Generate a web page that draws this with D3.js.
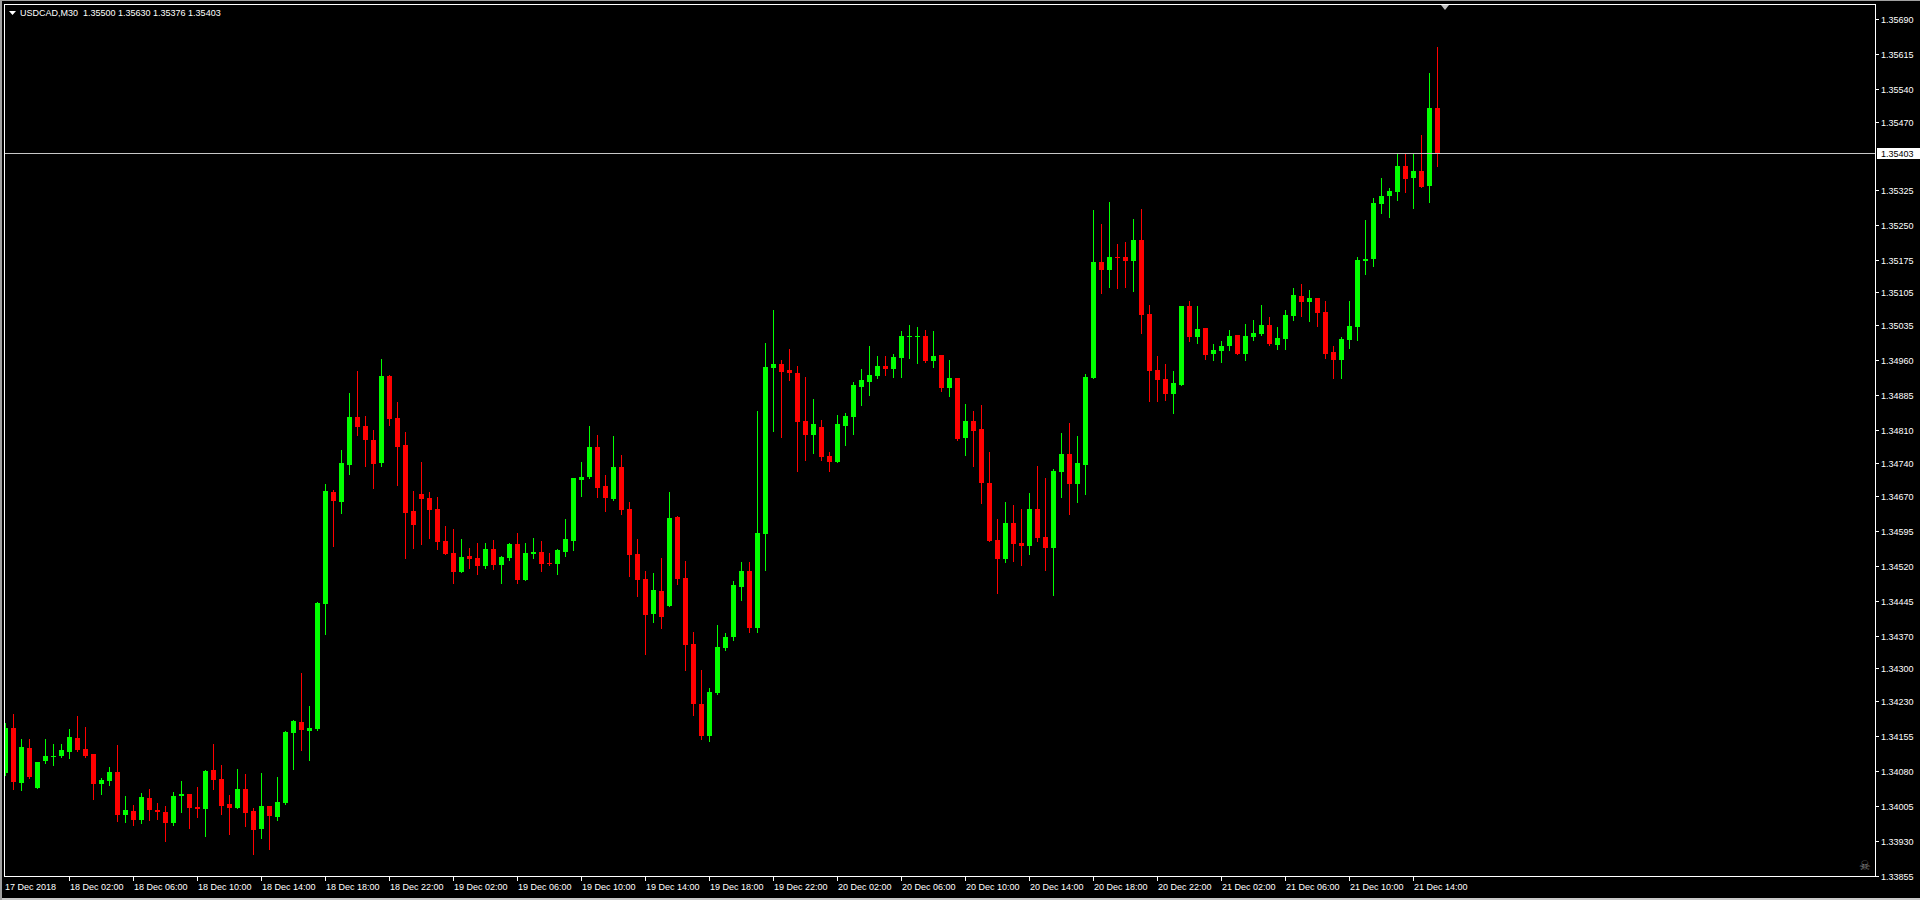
<!DOCTYPE html>
<html><head><meta charset="utf-8">
<script src="https://cdn.jsdelivr.net/npm/d3@7"></script>
<style>
html,body{margin:0;padding:0;background:#000;overflow:hidden;}
svg{display:block;}
text{font-family:"Liberation Sans",Arial,sans-serif;font-size:9px;fill:#fff;white-space:pre;}
</style></head><body>
<svg id="c" width="1920" height="900"></svg>
<script>
const symbol = "USDCAD,M30";
const startTime = "2018-12-17T22:00";
const barMinutes = 30;

const open = [1.34076,1.34172,1.34055,1.34129,1.34044,1.34101,1.34110,1.34113,1.34121,1.34151,
1.34127,1.34116,1.34053,1.34059,1.34078,1.33986,1.33994,1.33975,1.34022,1.33996,
1.33992,1.33969,1.34026,1.34031,1.34003,1.33998,1.34082,1.34063,1.34009,1.34001,
1.34041,1.33994,1.33956,1.34005,1.33981,1.34011,1.34161,1.34185,1.34166,1.34170,
1.34438,1.34678,1.34656,1.34735,1.34838,1.34819,1.34789,1.34740,1.34926,1.34836,
1.34778,1.34637,1.34673,1.34665,1.34641,1.34573,1.34547,1.34506,1.34540,1.34536,
1.34519,1.34555,1.34521,1.34536,1.34566,1.34489,1.34545,1.34549,1.34526,1.34523,
1.34549,1.34573,1.34703,1.34710,1.34774,1.34690,1.34662,1.34731,1.34641,1.34545,
1.34491,1.34416,1.34466,1.34433,1.34624,1.34493,1.34352,1.34223,1.34155,1.34247,
1.34343,1.34367,1.34474,1.34508,1.34386,1.34588,1.34943,1.34952,1.34939,1.34932,
1.34830,1.34800,1.34817,1.34755,1.34742,1.34819,1.34838,1.34903,1.34913,1.34926,
1.34947,1.34941,1.34965,1.35010,1.35010,1.35012,1.34958,1.34971,1.34900,1.34922,
1.34793,1.34830,1.34812,1.34697,1.34575,1.34534,1.34611,1.34568,1.34562,1.34641,
1.34581,1.34558,1.34720,1.34759,1.34695,1.34735,1.34922,1.35170,1.35153,1.35181,
1.35181,1.35172,1.35217,1.35059,1.34939,1.34920,1.34887,1.34907,1.35076,1.35010,
1.35029,1.34973,1.34980,1.34990,1.35014,1.34973,1.35010,1.35016,1.35035,1.34992,
1.35005,1.35055,1.35097,1.35085,1.35093,1.35063,1.34977,1.34960,1.35003,1.35031,
1.35172,1.35177,1.35294,1.35312,1.35320,1.35376,1.35350,1.35365,1.35333,1.35500];

const high = [1.34183,1.34202,1.34148,1.34148,1.34099,1.34148,1.34138,1.34138,1.34170,1.34198,
1.34174,1.34116,1.34065,1.34089,1.34136,1.34026,1.34007,1.34033,1.34041,1.34011,
1.34005,1.34035,1.34058,1.34031,1.34046,1.34082,1.34138,1.34093,1.34028,1.34084,
1.34074,1.34001,1.34076,1.34005,1.34067,1.34166,1.34189,1.34290,1.34219,1.34442,
1.34695,1.34682,1.34768,1.34890,1.34937,1.34840,1.34810,1.34962,1.34928,1.34870,
1.34806,1.34680,1.34742,1.34678,1.34667,1.34605,1.34598,1.34577,1.34558,1.34568,
1.34568,1.34575,1.34540,1.34568,1.34590,1.34568,1.34579,1.34573,1.34547,1.34555,
1.34620,1.34708,1.34742,1.34819,1.34800,1.34714,1.34798,1.34757,1.34656,1.34577,
1.34508,1.34504,1.34536,1.34678,1.34626,1.34530,1.34378,1.34296,1.34258,1.34393,
1.34375,1.34487,1.34528,1.34528,1.34851,1.34997,1.35067,1.34960,1.34984,1.34947,
1.34924,1.34877,1.34832,1.34763,1.34843,1.34847,1.34913,1.34941,1.34990,1.34969,
1.34969,1.34973,1.35022,1.35035,1.35031,1.35025,1.35022,1.34971,1.34960,1.34922,
1.34866,1.34851,1.34864,1.34763,1.34620,1.34656,1.34650,1.34641,1.34675,1.34733,
1.34708,1.34727,1.34804,1.34825,1.34798,1.34930,1.35282,1.35252,1.35299,1.35209,
1.35213,1.35262,1.35284,1.35078,1.34969,1.34952,1.34937,1.35076,1.35087,1.35076,
1.35029,1.34995,1.35001,1.35025,1.35014,1.35037,1.35046,1.35078,1.35052,1.35031,
1.35067,1.35115,1.35123,1.35110,1.35093,1.35087,1.34990,1.35010,1.35087,1.35181,
1.35260,1.35307,1.35350,1.35329,1.35402,1.35402,1.35402,1.35442,1.35575,1.35630];

const low = [1.34071,1.34041,1.34039,1.34065,1.34044,1.34097,1.34093,1.34110,1.34108,1.34123,
1.34110,1.34019,1.34031,1.34050,1.33973,1.33971,1.33964,1.33969,1.33975,1.33977,
1.33930,1.33964,1.33992,1.33958,1.33981,1.33941,1.34041,1.33988,1.33945,1.34001,
1.33962,1.33902,1.33936,1.33913,1.33975,1.34009,1.34084,1.34125,1.34104,1.34168,
1.34373,1.34562,1.34633,1.34716,1.34800,1.34733,1.34686,1.34733,1.34821,1.34692,
1.34536,1.34558,1.34566,1.34579,1.34555,1.34545,1.34483,1.34506,1.34515,1.34502,
1.34515,1.34513,1.34483,1.34532,1.34483,1.34489,1.34536,1.34508,1.34521,1.34502,
1.34540,1.34553,1.34669,1.34708,1.34667,1.34637,1.34660,1.34630,1.34498,1.34455,
1.34331,1.34399,1.34386,1.34433,1.34481,1.34296,1.34200,1.34148,1.34144,1.34245,
1.34339,1.34361,1.34446,1.34378,1.34378,1.34511,1.34808,1.34795,1.34917,1.34722,
1.34746,1.34761,1.34746,1.34722,1.34742,1.34778,1.34802,1.34864,1.34885,1.34922,
1.34928,1.34924,1.34924,1.34965,1.34954,1.34956,1.34945,1.34894,1.34883,1.34789,
1.34757,1.34733,1.34654,1.34573,1.34461,1.34528,1.34530,1.34521,1.34545,1.34573,
1.34510,1.34457,1.34667,1.34630,1.34656,1.34673,1.34922,1.35104,1.35117,1.35115,
1.35117,1.35108,1.35018,1.34872,1.34872,1.34875,1.34847,1.34907,1.35001,1.34997,
1.34962,1.34960,1.34956,1.34982,1.34973,1.34960,1.35003,1.35014,1.34992,1.34984,
1.34984,1.35046,1.35055,1.35044,1.35033,1.34965,1.34922,1.34922,1.34986,1.35003,
1.35145,1.35162,1.35275,1.35267,1.35303,1.35320,1.35286,1.35331,1.35299,1.35376];

const close = [1.34172,1.34057,1.34131,1.34067,1.34099,1.34112,1.34112,1.34125,1.34153,1.34125,
1.34113,1.34053,1.34061,1.34078,1.33986,1.33996,1.33975,1.34024,1.33996,1.33993,
1.33969,1.34026,1.34031,1.34001,1.33998,1.34080,1.34061,1.34005,1.34001,1.34041,
1.33990,1.33954,1.34005,1.33983,1.34013,1.34164,1.34187,1.34168,1.34172,1.34440,
1.34680,1.34658,1.34740,1.34838,1.34817,1.34789,1.34738,1.34926,1.34834,1.34774,
1.34633,1.34607,1.34663,1.34639,1.34570,1.34545,1.34506,1.34538,1.34534,1.34519,
1.34555,1.34521,1.34538,1.34566,1.34489,1.34547,1.34549,1.34523,1.34523,1.34553,
1.34577,1.34708,1.34710,1.34774,1.34686,1.34665,1.34731,1.34639,1.34543,1.34489,
1.34414,1.34468,1.34410,1.34622,1.34491,1.34350,1.34223,1.34155,1.34249,1.34346,
1.34367,1.34478,1.34508,1.34386,1.34590,1.34945,1.34952,1.34935,1.34932,1.34827,
1.34800,1.34823,1.34753,1.34742,1.34823,1.34840,1.34907,1.34917,1.34928,1.34947,
1.34941,1.34967,1.35012,1.35012,1.35012,1.34958,1.34969,1.34900,1.34922,1.34791,
1.34830,1.34808,1.34697,1.34573,1.34534,1.34611,1.34566,1.34562,1.34641,1.34579,
1.34558,1.34723,1.34759,1.34695,1.34740,1.34924,1.35170,1.35153,1.35181,1.35179,
1.35172,1.35217,1.35057,1.34937,1.34917,1.34887,1.34911,1.35076,1.35010,1.35027,
1.34971,1.34982,1.34990,1.35012,1.34973,1.35012,1.35018,1.35035,1.34995,1.35007,
1.35057,1.35100,1.35085,1.35093,1.35061,1.34973,1.34960,1.35005,1.35033,1.35174,
1.35177,1.35297,1.35312,1.35322,1.35376,1.35348,1.35365,1.35331,1.35500,1.35403];

const priceTicks = ["1.35690","1.35615","1.35540","1.35470","1.35325","1.35250","1.35175","1.35105",
"1.35035","1.34960","1.34885","1.34810","1.34740","1.34670","1.34595","1.34520","1.34445","1.34370",
"1.34300","1.34230","1.34155","1.34080","1.34005","1.33930","1.33855"];

const timeTicks = ["17 Dec 2018","18 Dec 02:00","18 Dec 06:00","18 Dec 10:00","18 Dec 14:00","18 Dec 18:00",
"18 Dec 22:00","19 Dec 02:00","19 Dec 06:00","19 Dec 10:00","19 Dec 14:00","19 Dec 18:00","19 Dec 22:00",
"20 Dec 02:00","20 Dec 06:00","20 Dec 10:00","20 Dec 14:00","20 Dec 18:00","20 Dec 22:00","21 Dec 02:00",
"21 Dec 06:00","21 Dec 10:00","21 Dec 14:00"];

const lastPrice = 1.35403;

// ---------- drawing ----------
const W = 1920, H = 900;
const plot = {left: 4, top: 4, right: 1875, bottom: 876};
const N = open.length;
const svg = d3.select("#c");

const parse = d3.timeParse("%Y-%m-%dT%H:%M");
const t0 = parse(startTime);
const times = d3.range(N).map(i => d3.timeMinute.offset(t0, i * barMinutes));
const fmtFirst = d3.timeFormat("%d %b %Y");
const fmtBar = d3.timeFormat("%d %b %H:%M");

const x = d3.scaleLinear().domain([0, N - 1]).range([5.3, 5.3 + 8 * (N - 1)]);
const y = d3.scaleLinear().domain([1.33855, 1.35690]).range([876, 19.3]);

// window frame
svg.append("rect").attr("x",0).attr("y",0).attr("width",W).attr("height",H).attr("fill","#000");
svg.append("rect").attr("x",0).attr("y",0).attr("width",W).attr("height",1).attr("fill","#a0a0a0");
svg.append("rect").attr("x",0).attr("y",898).attr("width",W).attr("height",2).attr("fill","#c8c8c8");
svg.append("rect").attr("x",0).attr("y",0).attr("width",2).attr("height",H).attr("fill","#a0a0a0");

svg.append("clipPath").attr("id","pc").append("rect")
  .attr("x", plot.left + 1).attr("y", plot.top + 1)
  .attr("width", plot.right - plot.left - 1).attr("height", plot.bottom - plot.top - 1);

const g = svg.append("g").attr("clip-path","url(#pc)").attr("shape-rendering","crispEdges");

const bars = d3.range(N).map(i => ({i, o: open[i], h: high[i], l: low[i], c: close[i]}));
const col = d => d.c >= d.o ? "#00ff00" : "#ff0000";

g.selectAll("line.wick").data(bars).join("line")
  .attr("class","wick")
  .attr("x1", d => Math.floor(x(d.i)) + 0.5).attr("x2", d => Math.floor(x(d.i)) + 0.5)
  .attr("y1", d => Math.round(y(d.h))).attr("y2", d => Math.round(y(d.l)) + 1)
  .attr("stroke", col).attr("stroke-width", 1);

g.selectAll("rect.body").data(bars).join("rect")
  .attr("class","body")
  .attr("x", d => Math.floor(x(d.i)) - 2)
  .attr("width", 5)
  .attr("y", d => Math.round(y(Math.max(d.o, d.c))))
  .attr("height", d => Math.max(1, Math.round(y(Math.min(d.o, d.c))) - Math.round(y(Math.max(d.o, d.c)))))
  .attr("fill", col);

// current price line
const yl = Math.round(y(lastPrice));
svg.append("line").attr("x1", plot.left).attr("x2", plot.right)
  .attr("y1", yl + 0.5).attr("y2", yl + 0.5).attr("stroke","#c8c8c8").attr("stroke-width",1);

// frame
const fr = svg.append("g").attr("stroke","#ffffff").attr("stroke-width",1).attr("shape-rendering","crispEdges");
fr.append("line").attr("x1",plot.left+0.5).attr("x2",plot.left+0.5).attr("y1",plot.top).attr("y2",plot.bottom+1);
fr.append("line").attr("x1",plot.left).attr("x2",plot.right+1).attr("y1",plot.top+0.5).attr("y2",plot.top+0.5);
fr.append("line").attr("x1",plot.right+0.5).attr("x2",plot.right+0.5).attr("y1",plot.top).attr("y2",plot.bottom+1);
fr.append("line").attr("x1",plot.left).attr("x2",plot.right+1).attr("y1",plot.bottom+0.5).attr("y2",plot.bottom+0.5);

// price axis
const pa = svg.append("g");
priceTicks.forEach(s => {
  const v = +s, yy = Math.round(y(v));
  pa.append("line").attr("x1", plot.right).attr("x2", plot.right + 4)
    .attr("y1", yy + 0.5).attr("y2", yy + 0.5).attr("stroke","#fff").attr("shape-rendering","crispEdges");
  pa.append("text").attr("x", plot.right + 6).attr("y", yy + 4).text(s);
});
svg.append("rect").attr("x", plot.right + 2).attr("y", yl - 5).attr("width", W - plot.right - 2).attr("height", 11).attr("fill","#fff");
svg.append("text").attr("x", plot.right + 6).attr("y", yl + 4).style("fill","#000").text(d3.format(".5f")(lastPrice));

// time axis
const ta = svg.append("g");
timeTicks.forEach((s, k) => {
  let idx = k === 0 ? times.findIndex(t => fmtFirst(t) === s) : times.findIndex(t => fmtBar(t) === s);
  if (idx < 0) return;
  const xx = Math.floor(x(idx));
  if (k > 0) {
    ta.append("line").attr("x1", xx + 0.5).attr("x2", xx + 0.5).attr("y1", plot.bottom).attr("y2", plot.bottom + 5)
      .attr("stroke","#fff").attr("shape-rendering","crispEdges");
  }
  ta.append("text").attr("x", k === 0 ? 5 : xx + 1).attr("y", 890).text(s);
});

// title
svg.append("path").attr("d","M9,11 L16,11 L12.5,15 Z").attr("fill","#fff");
svg.append("text").attr("x", 20).attr("y", 16)
  .text(symbol + "  " + [open[N-1], high[N-1], low[N-1], close[N-1]].map(d3.format(".5f")).join(" "));

// chart shift marker
const xs = Math.floor(x(N)) ;
svg.append("path").attr("d", `M${xs-4},${plot.top+1} L${xs+4},${plot.top+1} L${xs},${plot.top+6} Z`).attr("fill","#c0c0c0");

// small icon bottom right
svg.append("text").attr("x", 1859).attr("y", 870).style("fill","#808080").style("font-size","13px").style("font-family","DejaVu Sans").text("☠");
</script>
</body></html>
